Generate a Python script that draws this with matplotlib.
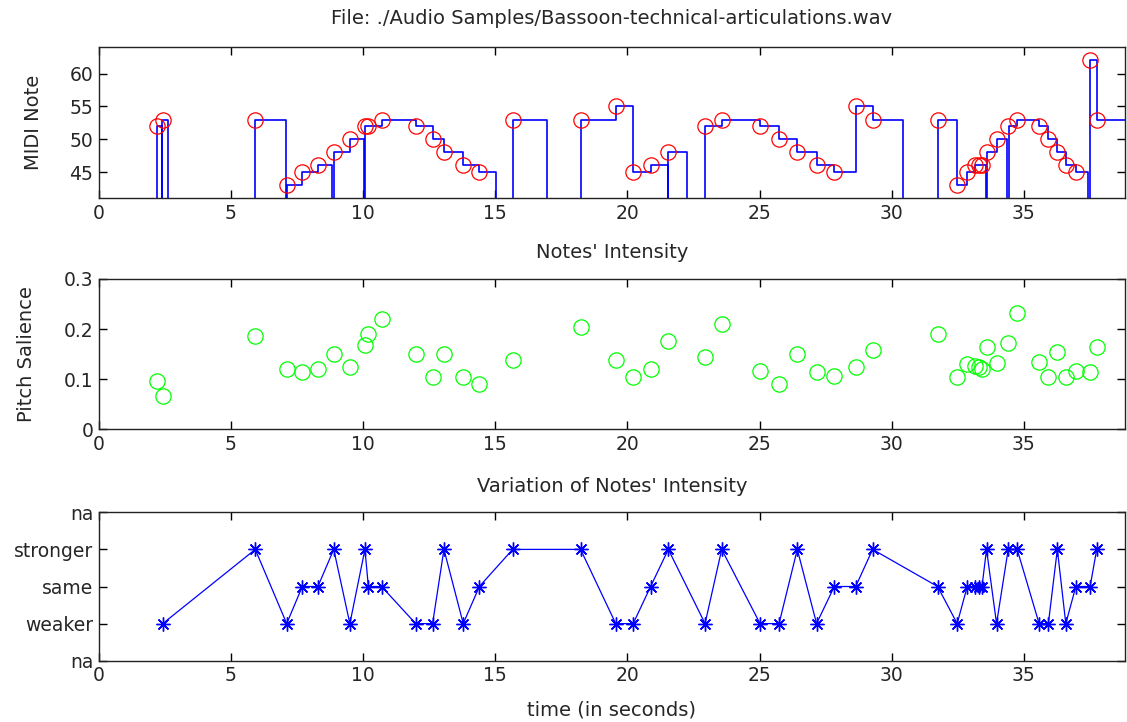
import numpy as np
import matplotlib
matplotlib.use("Agg")
import matplotlib.pyplot as plt

plt.rcParams["font.family"] = ["DejaVu Sans"]

# note onsets (s), MIDI pitch, pitch salience
onsets = [2.19, 2.42, 5.92, 7.11, 7.70, 8.29, 8.89, 9.50, 10.07, 10.20, 10.70, 11.99,
          12.63, 13.06, 13.79, 14.40, 15.66, 18.23, 19.56, 20.22, 20.88, 21.55, 22.94,
          23.57, 25.02, 25.74, 26.43, 27.16, 27.83, 28.64, 29.28, 31.74, 32.48, 32.86,
          33.17, 33.32, 33.42, 33.59, 33.97, 34.41, 34.75, 35.58, 35.93, 36.27, 36.59,
          36.97, 37.51, 37.76]
midi = [52, 53, 53, 43, 45, 46, 48, 50, 52, 52, 53, 52, 50, 48, 46, 45, 53, 53, 55, 45,
        46, 48, 52, 53, 52, 50, 48, 46, 45, 55, 53, 53, 43, 45, 46, 46, 46, 48, 50, 52,
        53, 52, 50, 48, 46, 45, 62, 53]
salience = [0.096, 0.066, 0.186, 0.120, 0.114, 0.120, 0.151, 0.124, 0.169, 0.191, 0.221,
            0.151, 0.104, 0.151, 0.104, 0.090, 0.138, 0.204, 0.138, 0.104, 0.120, 0.176,
            0.145, 0.211, 0.117, 0.090, 0.151, 0.114, 0.106, 0.124, 0.159, 0.190, 0.104,
            0.130, 0.127, 0.124, 0.120, 0.165, 0.132, 0.173, 0.232, 0.135, 0.104, 0.155,
            0.104, 0.117, 0.114, 0.165]
# 1=weaker 2=same 3=stronger, from the 2nd note on
variation = [1, 3, 1, 2, 2, 3, 1, 3, 2, 2, 1, 1, 3, 1, 2, 3, 3, 1, 1, 2, 3, 1, 3, 1, 1,
             3, 1, 2, 2, 3, 2, 1, 2, 2, 2, 2, 3, 1, 3, 3, 1, 1, 3, 1, 2, 2, 3]
var_labels = ["na", "weaker", "same", "stronger", "na"]

# stepwise pitch track (0 = silence)
pitch_t = [0, 2.19, 2.39, 2.41, 2.62, 5.92, 7.10, 7.11, 7.70, 8.29, 8.84, 8.89, 9.50, 10.05,
           10.07, 10.70, 11.99, 12.63, 13.06, 13.79, 14.40, 15.02, 15.66, 16.97, 18.23,
           19.56, 20.22, 20.88, 21.53, 21.55, 22.27, 22.94, 23.57, 25.02, 25.74, 26.43,
           27.16, 27.83, 28.64, 29.28, 30.44, 31.74, 32.48, 32.86, 33.17, 33.57, 33.59,
           33.97, 34.38, 34.43, 34.75, 35.58, 35.93, 36.27, 36.59, 36.97, 37.44, 37.51,
           37.76, 39.5]
pitch_v = [0, 52, 0, 53, 0, 53, 0, 43, 45, 46, 0, 48, 50, 0,
           52, 53, 52, 50, 48, 46, 45, 0, 53, 0, 53,
           55, 45, 46, 0, 48, 0, 52, 53, 52, 50, 48,
           46, 45, 55, 53, 0, 53, 43, 45, 46, 0, 48,
           50, 0, 52, 53, 52, 50, 48, 46, 45, 0, 62,
           53, 53]

W, H = 1127, 722
fig = plt.figure(figsize=(W / 100, H / 100), dpi=100)
L, R = 98.8 / W, 1125 / W
def box(top, bot):
    return [L, 1 - bot / H, R - L, (bot - top) / H]
ax1 = fig.add_axes(box(47.3, 198.3))
ax2 = fig.add_axes(box(279, 429.3))
ax3 = fig.add_axes(box(512.3, 660.7))

XMAX = 38.83
TXT = "#262626"
for ax in (ax1, ax2, ax3):
    ax.set_xlim(0, XMAX)
    ax.set_xticks(range(0, 40, 5))
    ax.tick_params(direction="in", top=True, right=True, length=6, width=1,
                   labelsize=13.5, pad=4, labelcolor=TXT)
    for s in ax.spines.values(): s.set_linewidth(1.0); s.set_color("#222222")

ax1.step(pitch_t, pitch_v, where="post", color="#0000ff", lw=1.2)
ax1.plot(onsets, midi, "o", mfc="none", mec="#ff0000", ms=11, mew=0.9)
ax1.set_ylim(41, 64); ax1.set_yticks([45, 50, 55, 60])
ax1.set_ylabel("MIDI Note", fontsize=14, color=TXT)
ax1.yaxis.set_label_coords(-0.054, 0.5)

ax2.plot(onsets, salience, "o", mfc="none", mec="#00ff00", ms=11, mew=0.9)
ax2.set_ylim(0, 0.3); ax2.set_yticks([0, 0.1, 0.2, 0.3])
ax2.set_yticklabels(["0", "0.1", "0.2", "0.3"])
ax2.set_ylabel("Pitch Salience", fontsize=14, color=TXT)
ax2.yaxis.set_label_coords(-0.061, 0.5)

ax3.plot(onsets[1:], variation, "-", color="#0000ff", lw=0.9,
         marker=(8, 2, 0), ms=10, mew=1.0, mec="#0000ff")
ax3.set_ylim(0, 4); ax3.set_yticks(range(5)); ax3.set_yticklabels(var_labels)

cx = (L + R) / 2
for y, s in [(18, "File: ./Audio Samples/Bassoon-technical-articulations.wav"),
             (253, "Notes' Intensity"), (487, "Variation of Notes' Intensity"),
             (710, "time (in seconds)")]:
    fig.text(cx, 1 - y / H, s, ha="center", va="center", fontsize=14, color=TXT)

fig.savefig("out.png", dpi=100)
